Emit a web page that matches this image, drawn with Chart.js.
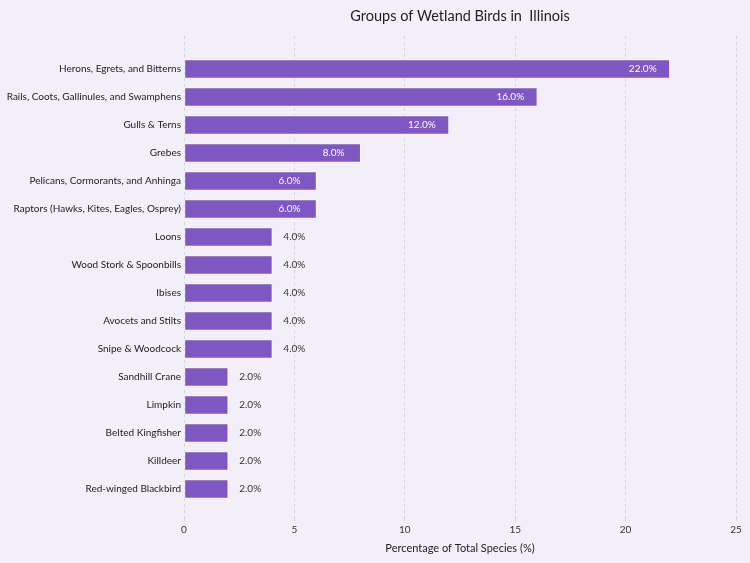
<!DOCTYPE html>
<html>
<head>
<meta charset="utf-8">
<script src="https://cdn.jsdelivr.net/npm/chart.js@4"></script>
<style>
  html, body { margin: 0; padding: 0; background: #f2eff8; }
  #wrap { width: 750px; height: 563px; position: relative; }
</style>
</head>
<body>
<div id="wrap"><canvas id="birdChart"></canvas></div>
<script>
// Chart data
const groups = [
    'Herons, Egrets, and Bitterns',
    'Rails, Coots, Gallinules, and Swamphens',
    'Gulls & Terns',
    'Grebes',
    'Pelicans, Cormorants, and Anhinga',
    'Raptors (Hawks, Kites, Eagles, Osprey)',
    'Loons',
    'Wood Stork & Spoonbills',
    'Ibises',
    'Avocets and Stilts',
    'Snipe & Woodcock',
    'Sandhill Crane',
    'Limpkin',
    'Belted Kingfisher',
    'Killdeer',
    'Red-winged Blackbird'
];
const percentages = [22, 16, 12, 8, 6, 6, 4, 4, 4, 4, 4, 2, 2, 2, 2, 2];
const xTicks = [0, 5, 10, 15, 20, 25];

const chartTitle = 'Groups of Wetland Birds in  Illinois';
const xAxisTitle = 'Percentage of Total Species (%)';

const fontFamily = 'Lato, "Open Sans", sans-serif';

// Draw percentage labels on or next to each bar
const valueLabels = {
    id: 'valueLabels',
    afterDatasetsDraw(chart) {
        const ctx = chart.ctx;
        const meta = chart.getDatasetMeta(0);
        ctx.save();
        ctx.font = '10px ' + fontFamily;
        ctx.textAlign = 'center';
        ctx.textBaseline = 'middle';
        meta.data.forEach((bar, i) => {
            const v = percentages[i];
            const text = v.toFixed(1) + '%';
            if (v >= 6) {
                ctx.fillStyle = '#ffffff';
                ctx.fillText(text, bar.x - 27, bar.y);
            } else {
                ctx.fillStyle = '#333333';
                ctx.fillText(text, bar.x + 22, bar.y);
            }
        });
        ctx.restore();
    }
};

const ctx = document.getElementById('birdChart').getContext('2d');
new Chart(ctx, {
    type: 'bar',
    data: {
        datasets: [{
            data: percentages.map((v, i) => ({ x: v, y: i })),
            backgroundColor: '#7e57c2',
            borderColor: 'rgba(255, 255, 255, 0.55)',
            borderWidth: 1,
            borderSkipped: false,
            barThickness: 19
        }]
    },
    options: {
        indexAxis: 'y',
        responsive: true,
        maintainAspectRatio: false,
        animation: false,
        layout: { padding: { left: 0, right: 14, top: 0, bottom: 0 } },
        plugins: {
            legend: { display: false },
            tooltip: { enabled: false },
            title: {
                display: true,
                text: chartTitle,
                fullSize: false,
                color: '#222222',
                font: { family: fontFamily, size: 14.5, weight: 'normal', lineHeight: 1.2 },
                padding: { top: 8, bottom: 10.6 }
            }
        },
        scales: {
            x: {
                type: 'linear',
                min: 0,
                max: 25,
                afterBuildTicks: (scale) => {
                    scale.ticks = xTicks.map(v => ({ value: v }));
                },
                afterFit: (scale) => { scale.height = 46; },
                grid: {
                    color: '#d6d2de',
                    borderDash: [3, 3],
                    tickLength: 4,
                    tickBorderDash: []
                },
                border: { display: false, dash: [3, 3] },
                ticks: {
                    color: '#333333',
                    padding: 3,
                    font: { family: fontFamily, size: 10 }
                },
                title: {
                    display: true,
                    text: xAxisTitle,
                    color: '#222222',
                    font: { family: fontFamily, size: 11 },
                    padding: { top: 4, bottom: 8 }
                }
            },
            y: {
                type: 'linear',
                reverse: true,
                offset: false,
                min: -1.18,
                max: 16,
                afterFit: (scale) => { scale.width = 184; },
                grid: { display: false, drawTicks: false, offset: false },
                border: { display: false },
                ticks: {
                    stepSize: 1,
                    autoSkip: false,
                    includeBounds: false,
                    padding: 3,
                    color: '#222222',
                    font: { family: fontFamily, size: 10 },
                    callback: (value) => {
                        return Number.isInteger(value) && value >= 0 && value < groups.length ? groups[value] : '';
                    }
                }
            }
        }
    },
    plugins: [valueLabels]
});
</script>
</body>
</html>
